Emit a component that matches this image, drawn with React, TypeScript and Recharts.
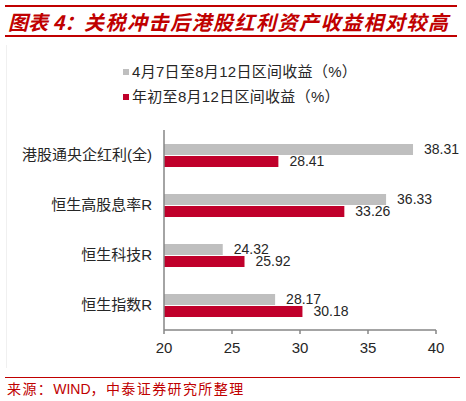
import React from 'react';
import { BarChart, Bar, XAxis, YAxis, LabelList, Legend } from 'recharts';

const categories = ['港股通央企红利(全)', '恒生高股息率R', '恒生科技R', '恒生指数R'];
const seriesAprToAug = [38.31, 36.33, 24.32, 28.17];
const seriesYtd = [28.41, 33.26, 25.92, 30.18];
const seriesNames = ['4月7日至8月12日区间收益（%）', '年初至8月12日区间收益（%）'];
const xTicks = [20, 25, 30, 35, 40];
const bandTicks = [0, 1, 2, 3, 4];

const data = categories.map((name, i) => ({
  name,
  a: seriesAprToAug[i],
  b: seriesYtd[i],
}));

const FONT = '"Liberation Sans", Arial, "Noto Sans CJK SC", sans-serif';
const RED = '#c00000';
const BAR_RED = '#c0002b';
const BAR_GRAY = '#bfbfbf';
const AXIS = '#868686';

const LegendContent = (props: any) => {
  const payload = props.payload || [];
  return (
    <div style={{ fontFamily: FONT, fontSize: 15, color: '#262626' }}>
      {payload.map((p: any, i: number) => (
        <div key={i} style={{ height: 25, lineHeight: '25px', display: 'flex', alignItems: 'center' }}>
          <span style={{ width: 6, height: 6, background: p.color, display: 'inline-block', marginRight: 3 }} />
          <span style={{ letterSpacing: 0.3 }}>{p.value}</span>
        </div>
      ))}
    </div>
  );
};

export default function App() {
  return (
    <div style={{ position: 'fixed', left: 0, top: 0, width: 466, height: 401, background: '#fff', overflow: 'hidden' }}>
      <div style={{ position: 'absolute', left: 5, top: 5, width: 452, height: 2, background: RED }} />
      <div
        style={{
          position: 'absolute',
          left: 8,
          top: 8,
          height: 27,
          lineHeight: '27px',
          fontFamily: '"Noto Sans CJK SC", sans-serif',
          fontSize: 20,
          fontStyle: 'italic',
          fontWeight: 700,
          color: RED,
          whiteSpace: 'nowrap',
        }}
      >
        <span style={{ display: 'inline-block', width: 76 }}>图表 4：</span>
        <span style={{ letterSpacing: 1.5 }}>关税冲击后港股红利资产收益相对较高</span>
      </div>
      <div style={{ position: 'absolute', left: 5, top: 35, width: 452, height: 1.5, background: RED }} />
      <div style={{ position: 'absolute', left: 6, top: 45, width: 440, height: 323, borderLeft: '1px solid #f0f0f0' }} />

      <div style={{ position: 'absolute', left: 0, top: 0 }}>
        <BarChart
          width={466}
          height={401}
          data={data}
          layout="vertical"
          margin={{ top: 130, right: 30, bottom: 41, left: 9 }}
          barGap={1}
        >
          <XAxis
            type="number"
            domain={[20, 40]}
            ticks={xTicks}
            height={30}
            axisLine={{ stroke: AXIS, strokeWidth: 1.5 }}
            tickLine={{ stroke: AXIS, strokeWidth: 1.5 }}
            tickSize={4}
            tickMargin={8}
            tick={{ fill: '#262626', fontSize: 15, fontFamily: FONT }}
            allowDataOverflow
          />
          <YAxis
            yAxisId="band"
            type="number"
            domain={[0, 4]}
            ticks={bandTicks}
            width={0}
            allowDataOverflow
            axisLine={false}
            tickLine={{ stroke: AXIS, strokeWidth: 1.5 }}
            tickSize={4}
            tick={false}
          />
          <YAxis
            yAxisId="cat"
            type="category"
            dataKey="name"
            width={155}
            axisLine={{ stroke: AXIS, strokeWidth: 1.5 }}
            tickLine={false}
            tickSize={4}
            tickMargin={8}
            tick={{ fill: '#262626', fontSize: 15, fontFamily: FONT }}
            interval={0}
          />
          <Legend
            layout="vertical"
            align="center"
            verticalAlign="middle"
            wrapperStyle={{ position: 'absolute', left: 123, top: 59, width: 300 }}
            content={<LegendContent />}
          />
          <Bar yAxisId="cat" dataKey="a" name={seriesNames[0]} fill={BAR_GRAY} barSize={11} isAnimationActive={false}>
            <LabelList dataKey="a" position="right" offset={11} fill="#262626" fontSize={14} fontFamily={FONT} />
          </Bar>
          <Bar yAxisId="cat" dataKey="b" name={seriesNames[1]} fill={BAR_RED} barSize={11} isAnimationActive={false}>
            <LabelList dataKey="b" position="right" offset={11} fill="#262626" fontSize={14} fontFamily={FONT} />
          </Bar>
        </BarChart>
      </div>

      <div style={{ position: 'absolute', left: 5, top: 376.5, width: 455, height: 1.5, background: RED }} />
      <div
        style={{
          position: 'absolute',
          left: 7,
          top: 378,
          height: 20,
          lineHeight: '20px',
          fontFamily: '"Noto Sans CJK SC", sans-serif',
          fontSize: 14,
          letterSpacing: 1.4,
          color: RED,
          whiteSpace: 'nowrap',
        }}
      >
        来源：<span style={{ fontFamily: FONT, letterSpacing: 0 }}>WIND</span>，中泰证券研究所整理
      </div>
    </div>
  );
}
